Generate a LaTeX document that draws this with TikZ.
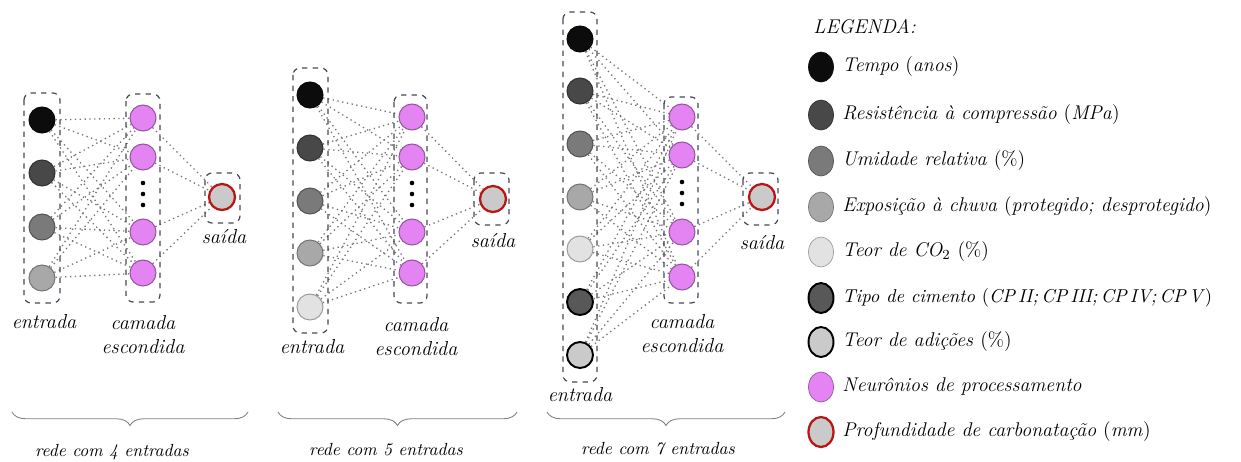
\documentclass[tikz,border=0pt]{standalone}
\usepackage{fontspec}
\usetikzlibrary{shapes.geometric,decorations.pathreplacing}

\definecolor{inA}{RGB}{12,12,12}
\definecolor{inB}{RGB}{72,72,72}
\definecolor{inC}{RGB}{122,122,122}
\definecolor{inD}{RGB}{168,168,168}
\definecolor{inE}{RGB}{226,226,226}
\definecolor{inF}{RGB}{88,88,88}
\definecolor{inG}{RGB}{202,202,202}
\definecolor{hidcol}{RGB}{228,132,242}
\definecolor{outred}{RGB}{185,22,22}
\definecolor{boxgray}{RGB}{72,72,88}
\definecolor{wirecol}{RGB}{118,118,118}

\begin{document}
\begin{tikzpicture}[x=0.02cm,y=-0.02cm,
  font=\itshape\fontsize{11.5}{13.6}\selectfont,
  inpt/.style={circle, minimum size=0.52cm, inner sep=0pt, fill=#1, draw=#1!70!black, line width=0.6pt},
  inptk/.style={circle, minimum size=0.52cm, inner sep=0pt, fill=#1, draw=black, line width=1.1pt},
  hidn/.style={circle, minimum size=0.52cm, inner sep=0pt, fill=hidcol, draw=hidcol!65!black, line width=0.6pt},
  outpt/.style={circle, minimum size=0.52cm, inner sep=0pt, fill=inG, draw=outred, line width=1.3pt},
  wire/.style={draw=wirecol, dotted, line width=0.75pt},
  grupo/.style={draw=boxgray, dashed, rounded corners=4pt, line width=0.7pt},
  chave/.style={draw=gray, decorate, decoration={brace, mirror, amplitude=0.27cm}, line width=0.5pt},
  rotulo/.style={inner sep=0pt},
  rede/.style={inner sep=0pt, font=\itshape\fontsize{10}{12}\selectfont},
  lsimb/.style={ellipse, minimum width=0.5cm, minimum height=0.6cm, inner sep=0pt},
  ltexto/.style={anchor=west, inner sep=0pt, font=\itshape\fontsize{11.3}{14}\selectfont}]
  \useasboundingbox (0,0) rectangle (1241,461);
  %
  % rede com 4 entradas
  \foreach \i/\y/\c in {1/120/inA,2/173/inB,3/227/inC,4/278/inD}
    \node[inpt=\c] (a\i) at (42,\y) {};
  \foreach \j/\y in {1/118,2/157,3/232,4/273}
    \node[hidn] (ah\j) at (143,\y) {};
  \node[outpt] (ao) at (222,197) {};
  \foreach \i in {1,...,4}
    \foreach \j in {1,...,4}
      \draw[wire] (a\i) -- (ah\j);
  \foreach \j in {1,...,4}
    \draw[wire] (ah\j) -- (ao);
  \foreach \y in {183,194,205}
    \fill (143,\y) circle (1.3pt);
  \draw[grupo] (24,93) rectangle (60,303);
  \draw[grupo] (126,94) rectangle (160,302);
  \draw[grupo] (205,173) rectangle (240,223);
  \node[rotulo] (aent) at (44,322) {entrada};
  \node[rotulo, align=center] (acam) at (143,335) {camada\\escondida};
  \node[rotulo] (asai) at (224,237) {saída};
  \coordinate (ab1) at (12,412);
  \coordinate (ab2) at (248,412);
  \draw[chave] (ab1) -- (ab2);
  \node[rede] (ared) at (112,452) {rede com 4 entradas};
  %
  % rede com 5 entradas
  \foreach \i/\y/\c in {1/95/inA,2/148/inB,3/201/inC,4/253/inD,5/307/inE}
    \node[inpt=\c] (b\i) at (310,\y) {};
  \foreach \j/\y in {1/117,2/157,3/232,4/273}
    \node[hidn] (bh\j) at (412,\y) {};
  \node[outpt] (bo) at (493,199) {};
  \foreach \i in {1,...,5}
    \foreach \j in {1,...,4}
      \draw[wire] (b\i) -- (bh\j);
  \foreach \j in {1,...,4}
    \draw[wire] (bh\j) -- (bo);
  \foreach \y in {183,194,205}
    \fill (412,\y) circle (1.3pt);
  \draw[grupo] (293,68) rectangle (328,333);
  \draw[grupo] (394,95) rectangle (427,303);
  \draw[grupo] (474,173) rectangle (509,225);
  \node[rotulo] (bent) at (312,347) {entrada};
  \node[rotulo, align=center] (bcam) at (416,337) {camada\\escondida};
  \node[rotulo] (bsai) at (493,241) {saída};
  \coordinate (bb1) at (278,412);
  \coordinate (bb2) at (517,412);
  \draw[chave] (bb1) -- (bb2);
  \node[rede] (bred) at (386,450) {rede com 5 entradas};
  %
  % rede com 7 entradas
  \foreach \i/\y/\c in {1/39/inA,2/91/inB,3/144/inC,4/197/inD,5/249/inE}
    \node[inpt=\c] (c\i) at (580,\y) {};
  \node[inptk=inF] (c6) at (580,302) {};
  \node[inptk=inG] (c7) at (580,355) {};
  \foreach \j/\y in {1/117,2/155,3/232,4/277}
    \node[hidn] (ch\j) at (682,\y) {};
  \node[outpt] (co) at (762,197) {};
  \foreach \i in {1,...,7}
    \foreach \j in {1,...,4}
      \draw[wire] (c\i) -- (ch\j);
  \foreach \j in {1,...,4}
    \draw[wire] (ch\j) -- (co);
  \foreach \y in {182,193,204}
    \fill (682,\y) circle (1.3pt);
  \draw[grupo] (563,12) rectangle (597,382);
  \draw[grupo] (664,97) rectangle (698,303);
  \draw[grupo] (743,173) rectangle (778,225);
  \node[rotulo] (cent) at (580,395) {entrada};
  \node[rotulo, align=center] (ccam) at (682,334) {camada\\escondida};
  \node[rotulo] (csai) at (762,243) {saída};
  \coordinate (cb1) at (547,412);
  \coordinate (cb2) at (785,412);
  \draw[chave] (cb1) -- (cb2);
  \node[rede] (cred) at (658,449) {rede com 7 entradas};
  %
  % legenda
  \node[ltexto] (leg) at (813,27) {LEGENDA:};
  \node[lsimb, fill=inA, draw=inA] (l1) at (821,67) {};
  \node[lsimb, fill=inB, draw=inB!70!black] (l2) at (821,115) {};
  \node[lsimb, fill=inC, draw=inC!70!black] (l3) at (821,161) {};
  \node[lsimb, fill=inD, draw=inD!70!black] (l4) at (821,207) {};
  \node[lsimb, fill=inE, draw=inE!70!black] (l5) at (821,252) {};
  \node[lsimb, fill=inF, draw=black, line width=1.1pt] (l6) at (821,298) {};
  \node[lsimb, fill=inG, draw=black, line width=1.1pt] (l7) at (821,342) {};
  \node[lsimb, fill=hidcol, draw=hidcol!65!black] (l8) at (821,387) {};
  \node[lsimb, fill=inG, draw=outred, line width=1.3pt] (l9) at (821,432) {};
  \node[ltexto] (t1) at (842,67) {Tempo \textup{(}anos\textup{)}};
  \node[ltexto] (t2) at (842,115) {Resistência à compressão \textup{(}MPa\textup{)}};
  \node[ltexto] (t3) at (842,161) {Umidade relativa \textup{(\%)}};
  \node[ltexto] (t4) at (842,207) {Exposição à chuva \textup{(}protegido; desprotegido\textup{)}};
  \node[ltexto] (t5) at (842,252) {Teor de CO\textsubscript{\upshape 2} \textup{(\%)}};
  \node[ltexto, font=\itshape\fontsize{10.6}{14}\selectfont] (t6) at (842,298) {Tipo de cimento \textup{(}CP\,II;\,CP\,III;\,CP\,IV;\,CP\,V\textup{)}};
  \node[ltexto] (t7) at (842,342) {Teor de adições \textup{(\%)}};
  \node[ltexto] (t8) at (842,387) {Neurônios de processamento};
  \node[ltexto] (t9) at (842,432) {Profundidade de carbonatação \textup{(}mm\textup{)}};
\end{tikzpicture}
\end{document}
